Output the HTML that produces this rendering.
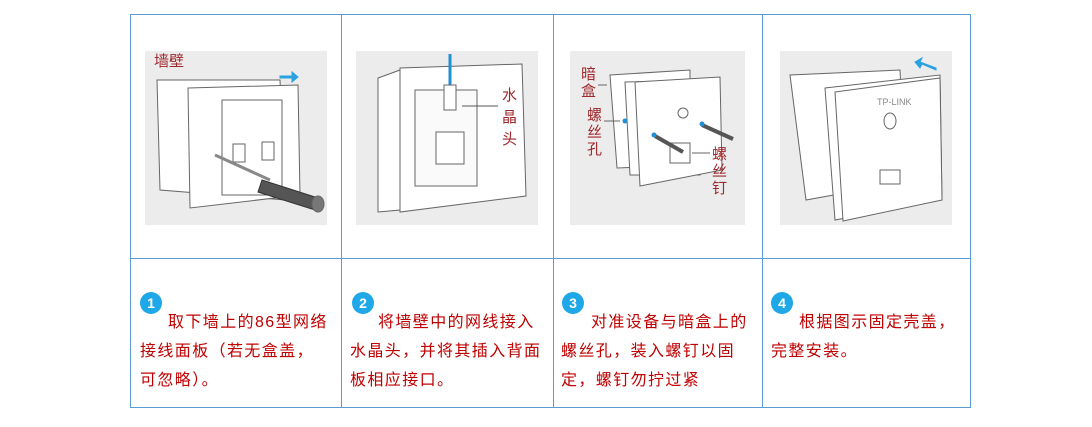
<!DOCTYPE html>
<html><head><meta charset="utf-8"><style>
body{margin:0;width:1092px;height:427px;background:#fff;position:relative;overflow:hidden;font-family:"Liberation Sans","Noto Sans CJK SC",sans-serif}
.v,.h{position:absolute;background:#5b9bd5}
.v{width:1px;top:14px;height:394px}
.h{height:1px;left:130px;width:841px}
.img{position:absolute;top:51px;height:174px;background:#ececec}
.t{position:absolute;color:#c00000;font-size:16px;letter-spacing:1.4px;white-space:nowrap;line-height:20px}
.n{position:absolute;width:22px;height:22px;border-radius:50%;background:#1fa8e8;color:#fff;font-weight:bold;font-size:14px;text-align:center;line-height:22px;top:292px}
svg{position:absolute;left:0;top:0}
.lb{color:#a0282c;font-size:15px;position:absolute;line-height:17px}
</style></head><body>
<div class="h" style="top:14px"></div><div class="h" style="top:258px"></div><div class="h" style="top:407px"></div>
<div class="v" style="left:130px"></div><div class="v" style="left:341px"></div><div class="v" style="left:553px"></div><div class="v" style="left:762px"></div><div class="v" style="left:970px"></div>
<div class="img" style="left:145px;width:182px"></div>
<div class="img" style="left:356px;width:182px"></div>
<div class="img" style="left:570px;width:175px"></div>
<div class="img" style="left:780px;width:172px"></div>
<svg width="1092" height="427" fill="#fff" stroke="#666" stroke-width="1">
<path d="M157 80 L280 80 L285 200 L160 190 Z"/>
<path d="M188 88 L298 85 L300 195 L190 208 Z"/>
<rect x="222" y="100" width="60" height="95" fill="none"/>
<rect x="233" y="144" width="12" height="18"/><rect x="262" y="142" width="12" height="18"/>
<line x1="215" y1="155" x2="270" y2="180" stroke="#888" stroke-width="3"/>
<path d="M262 180 L318 198 L315 210 L258 192 Z" fill="#555" stroke="#333"/>
<ellipse cx="318" cy="204" rx="6" ry="8" fill="#777"/>
<path d="M280 76 L292 76 L292 72 L298 77 L292 82 L292 78 L280 78Z" fill="#29a3e0" stroke="#29a3e0"/>
<path d="M378 78 L400 70 L400 210 L378 212 Z"/>
<path d="M400 68 L522 64 L526 196 L400 212 Z"/>
<rect x="415" y="90" width="62" height="96" fill="#fafafa"/>
<rect x="436" y="132" width="28" height="32"/>
<line x1="450" y1="54" x2="450" y2="85" stroke="#1f8fd6" stroke-width="3"/>
<rect x="444" y="85" width="12" height="25"/>
<line x1="462" y1="106" x2="498" y2="106" stroke="#555"/>
<path d="M610 75 L690 70 L690 165 L617 168 Z"/>
<path d="M625 82 L700 80 L700 175 L630 175 Z"/>
<path d="M635 82 L720 77 L722 170 L640 186 Z"/>
<circle cx="683" cy="113" r="5"/>
<rect x="670" y="143" width="20" height="20"/>
<line x1="655" y1="136" x2="683" y2="152" stroke="#555" stroke-width="4"/>
<line x1="702" y1="125" x2="733" y2="139" stroke="#555" stroke-width="4"/>
<circle cx="654" cy="135" r="2.5" fill="#1f8fd6" stroke="none"/><circle cx="702" cy="124" r="2.5" fill="#1f8fd6" stroke="none"/>
<circle cx="625" cy="121" r="2.5" fill="#1f8fd6" stroke="none"/>
<line x1="598" y1="85" x2="607" y2="85"/><line x1="604" y1="121" x2="620" y2="121"/><line x1="692" y1="153" x2="710" y2="153"/>
<path d="M790 75 L900 70 L905 182 L806 200 Z"/>
<path d="M825 88 L940 75 L942 200 L835 220 Z"/>
<path d="M835 92 L940 78 L942 200 L843 221 Z"/>
<ellipse cx="890" cy="121" rx="6" ry="8"/>
<rect x="880" y="170" width="20" height="14"/>
<text x="877" y="105" font-size="9" fill="#888" stroke="none" font-family="Liberation Sans">TP-LINK</text>
<path d="M936 68 L920 62 L922 58 L915 62 L920 68 L922 64 L936 70Z" fill="#29a3e0" stroke="#29a3e0"/>
</svg>
<div class="lb" style="left:154px;top:53px">墙壁</div>
<div class="lb" style="left:502px;top:85px;line-height:22px">水<br>晶<br>头</div>
<div class="lb" style="left:581px;top:66px">暗<br>盒</div>
<div class="lb" style="left:587px;top:107px">螺<br>丝<br>孔</div>
<div class="lb" style="left:712px;top:146px">螺<br>丝<br>钉</div>
<div class="n" style="left:140px">1</div><div class="n" style="left:352px">2</div><div class="n" style="left:562px">3</div><div class="n" style="left:771px">4</div>
<div class="t" style="left:168px;top:313px">取下墙上的86型网络</div>
<div class="t" style="left:140px;top:342px">接线面板（若无盒盖，</div>
<div class="t" style="left:140px;top:371px">可忽略）。</div>
<div class="t" style="left:378px;top:313px">将墙壁中的网线接入</div>
<div class="t" style="left:350px;top:342px">水晶头，并将其插入背面</div>
<div class="t" style="left:350px;top:371px">板相应接口。</div>
<div class="t" style="left:591px;top:313px">对准设备与暗盒上的</div>
<div class="t" style="left:561px;top:342px">螺丝孔，装入螺钉以固</div>
<div class="t" style="left:561px;top:371px">定，螺钉勿拧过紧</div>
<div class="t" style="left:799px;top:313px">根据图示固定壳盖，</div>
<div class="t" style="left:771px;top:342px">完整安装。</div>
</body></html>
